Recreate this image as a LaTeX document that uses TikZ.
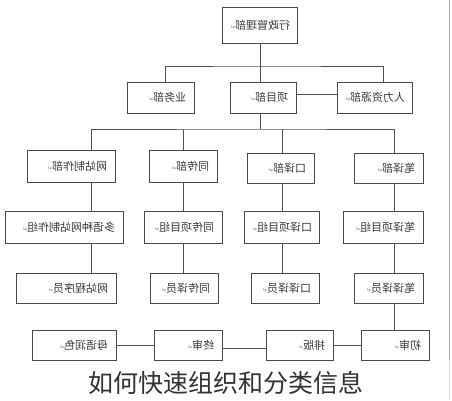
\documentclass[tikz,border=0pt]{standalone}
\usepackage{fontspec}
\usepackage{graphicx}
\newfontfamily\cjk{Noto Sans CJK SC}
\newfontfamily\dejavu{DejaVu Sans}
\definecolor{boxc}{HTML}{4A4A4A}
\definecolor{linec}{HTML}{505050}
\definecolor{txtc}{HTML}{3A3A3A}
\definecolor{capc}{HTML}{333333}
\newcommand{\retmark}{{\dejavu\fontsize{6}{6}\selectfont\color{gray}↵}}
\newcommand{\mtext}[1]{\reflectbox{#1\retmark}}
\begin{document}
\begin{tikzpicture}[x=1pt,y=-1pt,
  box/.style={draw=boxc, line width=0.9pt, fill=white, minimum height=#1, inner xsep=8pt, inner ysep=0pt,
    align=right, font=\cjk\fontsize{11}{13}\selectfont, text=txtc},
  conn/.style={draw=linec, line width=0.9pt},
  edgeline/.style={draw=gray!70, line width=1pt}]
\useasboundingbox (0,0) rectangle (452,400);
\fill[white] (0,0) rectangle (452,400);
% level 0/1
\node[box=36pt, text width=59pt] (admin) at (259.5,25) {\mtext{行政管理部}};
\node[box=31pt, text width=51pt] (yewu) at (160.5,97.5) {\mtext{业务部}};
\node[box=31pt, text width=50pt] (xiangmu) at (263,97.5) {\mtext{项目部}};
\node[box=31pt, text width=59pt] (renli) at (374.5,97.5) {\mtext{人力资源部}};
% level 2
\node[box=32pt, text width=72pt] (wangzhan) at (71,166) {\mtext{网站制作部}};
\node[box=32pt, text width=52pt] (tongchuan) at (183,166) {\mtext{同传部}};
\node[box=30pt, text width=51pt] (kouyi) at (280.5,168) {\mtext{口译部}};
\node[box=30pt, text width=53pt] (biyi) at (388.5,168) {\mtext{笔译部}};
% level 3
\node[box=32pt, text width=102pt] (duoyu) at (64,227) {\mtext{多语种网站制作组}};
\node[box=32pt, text width=62pt] (tcxm) at (183,227) {\mtext{同传项目组}};
\node[box=32pt, text width=59pt] (kyxm) at (281.5,227) {\mtext{口译项目组}};
\node[box=32pt, text width=64pt] (byxm) at (383,227) {\mtext{笔译项目组}};
% level 4
\node[box=30pt, text width=84pt] (wzcx) at (66,288) {\mtext{网站程序员}};
\node[box=30pt, text width=52pt] (tcyy) at (184,288) {\mtext{同传译员}};
\node[box=30pt, text width=52pt] (kyyy) at (285,288) {\mtext{口译译员}};
\node[box=30pt, text width=53pt] (byyy) at (388.5,288) {\mtext{笔译译员}};
% level 5
\node[box=30pt, text width=68pt] (muyu) at (74,345) {\mtext{母语润色}};
\node[box=30pt, text width=52pt] (zhongshen) at (188,345) {\mtext{终审}};
\node[box=30pt, text width=51pt] (paiban) at (299.5,345) {\mtext{排版}};
\node[box=30pt, text width=52pt] (chushen) at (395,345) {\mtext{初审}};
% caption
\node[font=\cjk\fontsize{25}{25}\selectfont, text=capc, inner sep=0pt] (caption) at (226,383) {如何快速组织和分类信息};
% column coordinates
\coordinate (bus1) at (260,66);
\coordinate (bus2) at (260,129);
\coordinate (xt1) at (165,0);
\coordinate (xt3) at (383,0);
\coordinate (xa) at (91,0);
\coordinate (xb) at (183,0);
\coordinate (xc) at (282,0);
\coordinate (xd) at (394,0);
% connectors
\draw[conn] (admin.south -| bus1) -- (bus1);
\draw[conn] (yewu.north -| xt1) |- (bus1) -| (renli.north -| xt3);
\draw[conn] (xiangmu.north -| bus1) -- (bus1);
\draw[conn] ([yshift=3.5pt]xiangmu.east) -- ([yshift=3.5pt]renli.west);
\draw[conn] (xiangmu.south -| bus2) -- (bus2);
\draw[conn] (wangzhan.north -| xa) |- (bus2) -| (biyi.north -| xd);
\draw[conn] (tongchuan.north -| xb) -- (xb |- bus2);
\draw[conn] (kouyi.north -| xc) -- (xc |- bus2);
\draw[conn] (wangzhan.south -| xa) -- (duoyu.north -| xa);
\draw[conn] (tongchuan.south -| xb) -- (tcxm.north -| xb);
\draw[conn] (kouyi.south -| xc) -- (kyxm.north -| xc);
\draw[conn] (biyi.south -| xd) -- (byxm.north -| xd);
\draw[conn] (duoyu.south -| xa) -- (wzcx.north -| xa);
\draw[conn] (tcxm.south -| xb) -- (tcyy.north -| xb);
\draw[conn] (kyxm.south -| xc) -- (kyyy.north -| xc);
\draw[conn] (byxm.south -| xd) -- (byyy.north -| xd);
\draw[conn] (byyy.south -| xd) -- (chushen.north -| xd);
\draw[conn] (muyu.east) -- (zhongshen.west);
\draw[conn] ([yshift=-3pt]zhongshen.east) -- ([yshift=-3pt]paiban.west);
\draw[conn] (paiban.east) -- (chushen.west);
% screen edge
\draw[edgeline] (449,0) -- (449,360);
\draw[draw=gray!30, line width=1pt] (449,360) -- (449,400);
\end{tikzpicture}
\end{document}
